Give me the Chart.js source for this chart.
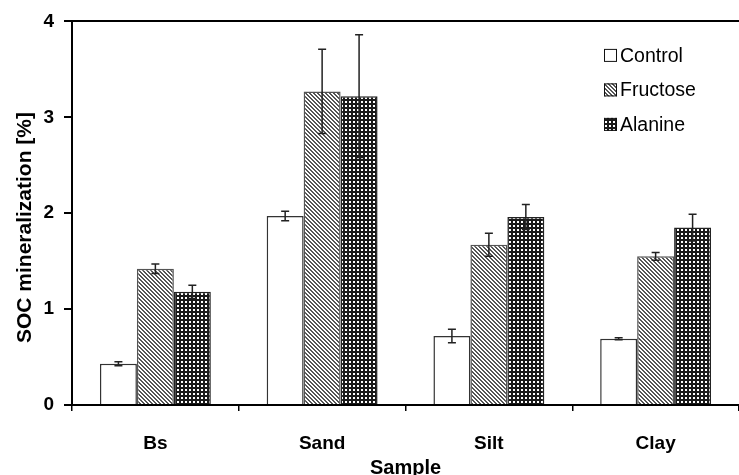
<!DOCTYPE html>
<html>
<head>
<meta charset="utf-8">
<script src="https://cdn.jsdelivr.net/npm/chart.js@4.4.0/dist/chart.umd.min.js"></script>
<style>
    html, body { margin: 0; padding: 0; background: #fff; }
    #wrap { width: 739px; height: 475px; position: relative; }
</style>
</head>
<body>
<div id="wrap"><canvas id="chart"></canvas></div>
<script>
// Data
const samples = ['Bs', 'Sand', 'Silt', 'Clay'];
const seriesNames = ['Control', 'Fructose', 'Alanine'];
const control = [0.43, 1.97, 0.72, 0.69];
const controlErr = [0.02, 0.05, 0.07, 0.01];
const fructose = [1.42, 3.27, 1.67, 1.55];
const fructoseErr = [0.05, 0.44, 0.12, 0.04];
const alanine = [1.18, 3.22, 1.96, 1.85];
const alanineErr = [0.07, 0.64, 0.13, 0.14];
const yTicks = [0, 1, 2, 3, 4];
const xTitle = 'Sample';
const yTitle = 'SOC mineralization [%]';

// hatch fills
function hatchPattern() {
    const c = document.createElement('canvas');
    c.width = 4; c.height = 4;
    const g = c.getContext('2d');
    g.fillStyle = '#fff';
    g.fillRect(0, 0, 4, 4);
    g.fillStyle = '#555';
    for (let i = 0; i < 4; i++) {
        g.fillRect(i, i, 1, 1);
        g.fillRect((i + 1) % 4, i, 1, 1);
    }
    return g.createPattern(c, 'repeat');
}

function gridPattern() {
    const c = document.createElement('canvas');
    c.width = 4; c.height = 4;
    const g = c.getContext('2d');
    g.fillStyle = '#1a1a1a';
    g.fillRect(0, 0, 4, 4);
    g.fillStyle = '#fff';
    g.fillRect(1, 1, 2, 2);
    return g.createPattern(c, 'repeat');
}

const fills = ['#ffffff', hatchPattern(), gridPattern()];
const borders = ['#333', '#555', '#222'];
const errs = [controlErr, fructoseErr, alanineErr];
const fontFamily = '"Liberation Sans", Arial, sans-serif';

// error bars drawn through the scales
const errorBars = {
    id: 'errorBars',
    afterDatasetsDraw(chart) {
        const ctx = chart.ctx;
        const y = chart.scales.y;
        ctx.save();
        ctx.strokeStyle = '#222';
        ctx.lineWidth = 1.5;
        chart.data.datasets.forEach((ds, di) => {
            const meta = chart.getDatasetMeta(di);
            meta.data.forEach((bar, i) => {
                const v = ds.data[i], e = errs[di][i];
                const yHi = y.getPixelForValue(v + e);
                const yLo = y.getPixelForValue(v - e);
                ctx.beginPath();
                ctx.moveTo(bar.x, yHi); ctx.lineTo(bar.x, yLo);
                ctx.moveTo(bar.x - 4, yHi); ctx.lineTo(bar.x + 4, yHi);
                ctx.moveTo(bar.x - 4, yLo); ctx.lineTo(bar.x + 4, yLo);
                ctx.stroke();
            });
        });
        ctx.restore();
    }
};

// legend inside the plot, top right + axis titles
const innerLegend = {
    id: 'innerLegend',
    afterDraw(chart) {
        const ctx = chart.ctx;
        const area = chart.chartArea;
        const x0 = area.right - 135;
        let yc = area.top + 34;
        ctx.save();
        ctx.font = '19.5px ' + fontFamily;
        ctx.textBaseline = 'middle';
        chart.data.datasets.forEach((ds, i) => {
            ctx.fillStyle = ds.backgroundColor;
            ctx.fillRect(x0, yc - 6.5, 13, 13);
            ctx.strokeStyle = '#111';
            ctx.lineWidth = 1;
            ctx.strokeRect(x0 + 0.5, yc - 6, 12, 12);
            ctx.fillStyle = '#000';
            ctx.fillText(ds.label, x0 + 16, yc + 1);
            yc += 34.5;
        });

        // axis titles
        ctx.fillStyle = '#000';
        ctx.font = 'bold 20px ' + fontFamily;
        ctx.textAlign = 'center';
        ctx.textBaseline = 'alphabetic';
        ctx.fillText(xTitle, (area.left + area.right) / 2, chart.height - 1);
        ctx.translate(31, chart.height / 2 - 10);
        ctx.rotate(-Math.PI / 2);
        ctx.font = 'bold 21px ' + fontFamily;
        ctx.fillText(yTitle, 0, 0);
        ctx.restore();
    }
};

const datasets = [control, fructose, alanine].map((d, i) => ({
    label: seriesNames[i],
    data: d,
    backgroundColor: fills[i],
    borderColor: borders[i],
    borderWidth: 1.5,
    categoryPercentage: 0.665,
    barPercentage: 1.0
}));

const tickFont = { family: fontFamily, size: 19, weight: 'bold' };

new Chart(document.getElementById('chart'), {
    type: 'bar',
    data: { labels: samples, datasets: datasets },
    options: {
        responsive: true,
        maintainAspectRatio: false,
        animation: false,
        layout: { padding: { top: 21, right: 0, left: 0, bottom: 0 } },
        plugins: {
            legend: { display: false },
            tooltip: { enabled: false }
        },
        scales: {
            x: {
                grid: {
                    offset: true,
                    drawOnChartArea: false,
                    color: '#000',
                    tickLength: 6,
                    lineWidth: 1.5
                },
                border: { color: '#000', width: 2 },
                ticks: { color: '#000', font: tickFont, padding: 21 },
                afterFit(scale) { scale.height = 70; }
            },
            y: {
                min: 0,
                max: 4,
                afterBuildTicks(scale) { scale.ticks = yTicks.map(v => ({ value: v })); },
                grid: {
                    color: ctx => (ctx.tick && ctx.tick.value === 4) ? '#000' : 'rgba(0,0,0,0)',
                    tickColor: '#000',
                    tickLength: 8,
                    lineWidth: 2
                },
                border: { color: '#000', width: 2 },
                ticks: { color: '#000', font: tickFont, padding: 10 },
                afterFit(scale) { scale.width = 72; }
            }
        }
    },
    plugins: [errorBars, innerLegend]
});
</script>
</body>
</html>
